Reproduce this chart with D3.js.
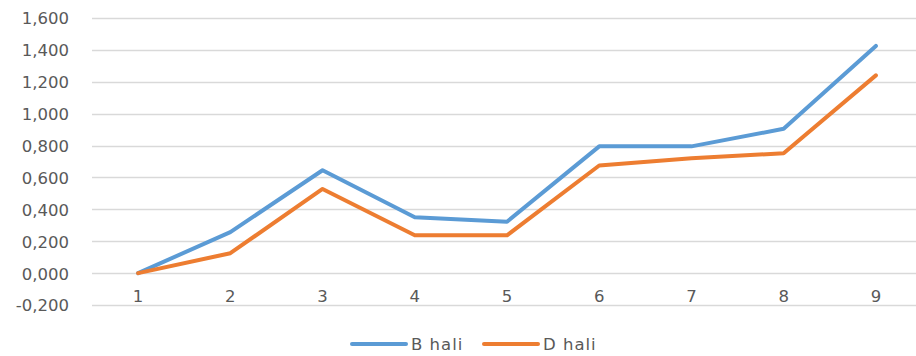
<!DOCTYPE html>
<html>
<head>
<meta charset="utf-8">
<script src="https://cdn.jsdelivr.net/npm/d3@7"></script>
<style>
  html, body { margin: 0; padding: 0; background: #fff; }
  svg text { font-family: "DejaVu Sans", Verdana, sans-serif; fill: #595959; }
</style>
</head>
<body>
<svg id="chart" width="916" height="356"></svg>
<script>
// Categories along the x axis
const categories = ["1", "2", "3", "4", "5", "6", "7", "8", "9"];
// Series values
const bHali = [0.000, 0.257, 0.645, 0.350, 0.322, 0.795, 0.795, 0.905, 1.425];
const dHali = [0.000, 0.125, 0.528, 0.237, 0.237, 0.675, 0.720, 0.752, 1.240];
// Y tick values
const yTicks = [-0.2, 0, 0.2, 0.4, 0.6, 0.8, 1.0, 1.2, 1.4, 1.6];

const series = [
  { name: "B hali", values: bHali, color: "#5B9BD5" },
  { name: "D hali", values: dHali, color: "#ED7D31" }
];

const svg = d3.select("#chart");
const plotLeft = 92, plotRight = 922, plotTop = 18, plotBottom = 305;

const x = d3.scaleBand().domain(categories).range([plotLeft, plotRight]);
const y = d3.scaleLinear().domain([-0.2, 1.6]).range([plotBottom, plotTop]);

// 1,600 style: comma as decimal separator, three decimals, plain hyphen minus
const locale = d3.formatLocale({ decimal: ",", thousands: ".", grouping: [3], currency: ["", ""], minus: "-" });
const label = locale.format(".3f");

// Gridlines
svg.append("g")
  .selectAll("line")
  .data(yTicks)
  .join("line")
  .attr("x1", plotLeft).attr("x2", 916)
  .attr("y1", d => Math.round(y(d)) + 0.5)
  .attr("y2", d => Math.round(y(d)) + 0.5)
  .attr("stroke", "#d9d9d9")
  .attr("stroke-width", 1.5);

// Y axis labels
const yAxis = d3.axisLeft(y).tickValues(yTicks).tickSize(0).tickPadding(0).tickFormat(label);
svg.append("g")
  .attr("transform", "translate(69,0)")
  .call(yAxis)
  .call(g => g.select(".domain").remove())
  .call(g => g.selectAll("text")
    .attr("font-size", 16.5)
    .attr("font-family", "DejaVu Sans, sans-serif")
    .attr("fill", "#595959")
    .attr("dy", "0.36em"));

// X axis labels
const xAxis = d3.axisBottom(x).tickSize(0).tickPadding(0);
svg.append("g")
  .attr("transform", `translate(0,${y(0)})`)
  .call(xAxis)
  .call(g => g.select(".domain").remove())
  .call(g => g.selectAll("text")
    .attr("font-size", 16.5)
    .attr("font-family", "DejaVu Sans, sans-serif")
    .attr("fill", "#595959")
    .attr("y", 23)
    .attr("dy", "0.36em"));

// Lines
const line = d3.line()
  .x((d, i) => x(categories[i]) + x.bandwidth() / 2)
  .y(d => y(d));

svg.append("g")
  .selectAll("path")
  .data(series)
  .join("path")
  .attr("d", d => line(d.values))
  .attr("fill", "none")
  .attr("stroke", d => d.color)
  .attr("stroke-width", 4)
  .attr("stroke-linejoin", "round")
  .attr("stroke-linecap", "round");

// Legend
const legendX = [352, 484];
const lg = svg.append("g")
  .selectAll("g")
  .data(series)
  .join("g")
  .attr("transform", (d, i) => `translate(${legendX[i]},344)`);
lg.append("line")
  .attr("x1", 0).attr("x2", 54)
  .attr("stroke", d => d.color)
  .attr("stroke-width", 4)
  .attr("stroke-linecap", "round");
lg.append("text")
  .attr("x", 59)
  .attr("dy", "0.36em")
  .attr("font-size", 16.5)
  .attr("letter-spacing", 1)
  .attr("fill", "#595959")
  .text(d => d.name);
</script>
</body>
</html>
